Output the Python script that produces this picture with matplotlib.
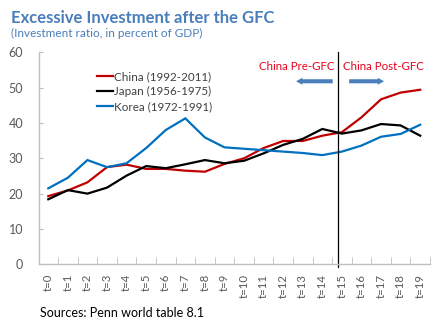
import matplotlib
matplotlib.use("Agg")
import matplotlib.pyplot as plt
from matplotlib.patches import FancyArrow
import numpy as np

# Investment ratio (% of GDP) over 20-year windows
periods = [f"t={i}" for i in range(20)]
china = [19.3, 20.9, 23.2, 27.5, 28.2, 27.0, 27.0, 26.5, 26.2, 28.4,
         30.0, 32.9, 34.9, 34.9, 36.4, 37.4, 41.6, 46.7, 48.6, 49.4]
japan = [18.4, 21.0, 20.0, 21.7, 25.1, 27.8, 27.2, 28.3, 29.5, 28.6,
         29.3, 31.4, 33.8, 35.5, 38.3, 37.0, 37.9, 39.7, 39.3, 36.4]
korea = [21.5, 24.5, 29.5, 27.5, 28.6, 32.9, 38.0, 41.3, 35.9, 33.1,
         32.7, 32.3, 31.9, 31.5, 30.9, 31.9, 33.6, 36.1, 36.9, 39.5]
series_labels = ["China (1992-2011)", "Japan (1956-1975)", "Korea (1972-1991)"]
series_colors = ["#C00000", "#000000", "#0070C0"]
yticks = [0, 10, 20, 30, 40, 50, 60]

plt.rcParams["font.family"] = ["Lato", "DejaVu Sans"]

fig = plt.figure(figsize=(4.47, 3.25), dpi=100)
ax = fig.add_axes([38.5 / 447, 60.7 / 325, (430 - 38.5) / 447, (264.3 - 52.3) / 325])

x = np.arange(len(periods))
for vals, lab, col in zip([china, japan, korea], series_labels, series_colors):
    ax.plot(x, vals, color=col, lw=1.6, label=lab, solid_joinstyle="miter")

ax.set_xlim(-0.5, len(periods) - 0.5)
ax.set_ylim(0, 60)
ax.set_yticks(yticks)
ax.set_xticks(x)
ax.set_xticklabels(periods, rotation=90, fontsize=8.2, color="#595959")
ax.set_xticks(np.arange(-0.5, len(periods), 1.0), minor=True)
ax.tick_params(axis="x", which="major", length=0, pad=7)
ax.tick_params(axis="x", which="minor", direction="in", length=5, color="#BFBFBF")
ax.tick_params(axis="y", direction="in", length=3, color="#BFBFBF",
               labelsize=9, labelcolor="#595959", pad=11)
for s in ["top", "right"]:
    ax.spines[s].set_visible(False)
for s in ["left", "bottom"]:
    ax.spines[s].set_color("#BFBFBF")
    ax.spines[s].set_linewidth(1.0)

# Divider between pre- and post-crisis years
ax.axvline(14.8, ymin=-0.012, ymax=1.0, color="#000000", lw=0.9, clip_on=False)

ax.text(14.6, 56.0, "China Pre-GFC", color="#E8001C", fontsize=8.3,
        ha="right", va="center")
ax.text(15.05, 56.0, "China Post-GFC", color="#E8001C", fontsize=8.3,
        ha="left", va="center")

arrow_kw = dict(width=1.15, head_width=2.0, head_length=0.32,
                length_includes_head=True, color="#4A7EBB", lw=0)
ax.add_patch(FancyArrow(14.53, 51.8, 12.66 - 14.53, 0, **arrow_kw))
ax.add_patch(FancyArrow(15.37, 51.8, 17.15 - 15.37, 0, **arrow_kw))

leg = ax.legend(loc="upper left", bbox_to_anchor=(97 / 447, 1 - 71 / 325),
                bbox_transform=fig.transFigure, frameon=False, fontsize=8.4,
                handlelength=1.4, handletextpad=0.1, labelspacing=0.35,
                borderpad=0, borderaxespad=0)
for t in leg.get_texts():
    t.set_color("#404040")

fig.text(11 / 447, 1 - 18 / 325, "Excessive Investment after the GFC",
         fontsize=12, fontweight="bold", color="#4A7EBB", va="center")
fig.text(11 / 447, 1 - 33 / 325, "(Investment ratio, in percent of GDP)",
         fontsize=8.5, color="#4A7EBB", va="center")
fig.text(40 / 447, 1 - 313 / 325, "Sources: Penn world table 8.1",
         fontsize=9, color="#000000", va="center")

fig.savefig("out.png", dpi=100)
